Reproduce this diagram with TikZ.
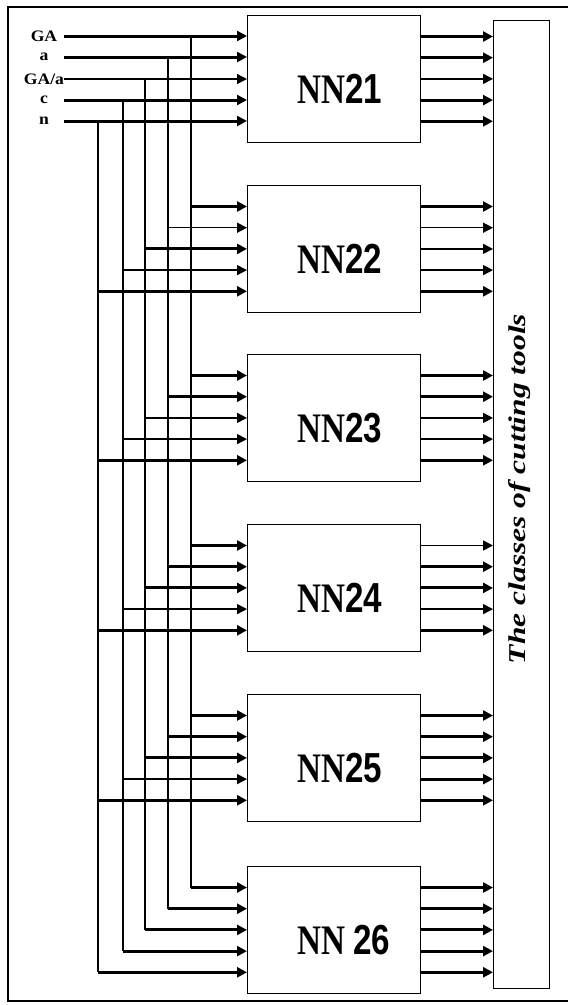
\documentclass[tikz,border=0pt]{standalone}
\usepackage{graphicx}
\usepackage{fontspec}
\setmainfont{Liberation Serif}
\setsansfont{Liberation Sans}
\usetikzlibrary{arrows.meta,positioning}

\tikzset{
  nnbox/.style={draw,line width=1.2pt,anchor=north west,minimum width=173pt,minimum height=127pt,inner sep=0pt},
  nnlab/.style={anchor=west,inner sep=0pt,font=\fontsize{42}{42}\selectfont\bfseries},
  inlab/.style={minimum width=40pt,inner sep=0pt,font=\fontsize{16}{16}\selectfont\bfseries},
  wT/.style={line width=3pt},
  wt/.style={line width=1.5pt},
  sig/.style={-{Triangle[length=10pt,width=10pt]}},
}

\begin{document}
\begin{tikzpicture}[x=1pt,y=-1pt]
\useasboundingbox (0,0) rectangle (568,1005);
\draw[line width=1.2pt] (8,7) rectangle (580,1001);

% input parameters
\node[inlab] (GA) at (44,36) {\scalebox{1.1}[1]{GA}};
\node[inlab] (a) at (44,57) {\scalebox{1.1}[1]{a}};
\node[inlab] (GAa) at (44,79) {\scalebox{1.1}[1]{GA/a}};
\node[inlab] (c) at (44,100) {\scalebox{1.1}[1]{c}};
\node[inlab] (n) at (44,121) {\scalebox{1.1}[1]{n}};

% output block
\node[draw,line width=1.2pt,anchor=north west,minimum width=56pt,minimum height=968pt,inner sep=0pt] (classes) at (493,20) {};
\node[rotate=90,inner sep=0pt] (title) at (520,489) {\resizebox{350pt}{17pt}{\bfseries\itshape The classes of cutting tools}};

% bus columns
\foreach \bx [count=\j from 0] in {191,168,145,123,98}
  \coordinate (bus\j) at (\bx,0);

% networks
\foreach \k/\t/\g/\il/\ol in {
  21/15/0/{wT,wT,wt,wT,wT}/{wT,wT,wt,wT,wT},
  22/185/0/{wT,wt,wT,wt,wT}/{wT,wt,wt,wt,wT},
  23/354/0/{wT,wT,wt,wt,wT}/{wT,wT,wt,wt,wT},
  24/524/0/{wT,wT,wT,wt,wT}/{wt,wT,wT,wt,wT},
  25/694/0/{wT,wT,wT,wt,wT}/{wT,wT,wT,wT,wT},
  26/866/10/{wT,wT,wT,wT,wT}/{wT,wT,wT,wT,wT}}{
  \node[nnbox] (NN\k) at (247,\t) {};
  \node[nnlab] (lab\k) at ([xshift=50pt,yshift=-10pt]NN\k.west) {\scalebox{0.79}[1]{NN\hspace{\g pt}\sffamily\k}};
  \foreach \w [count=\j from 0] in \il {
    \coordinate (in\k\j) at ([yshift={-21.5-21.2*\j}]NN\k.north west);
    \ifnum\k>21 \draw[sig,\w] (bus\j |- in\k\j) -- (in\k\j); \fi
  }
  \foreach \w [count=\j from 0] in \ol
    \draw[sig,\w] (NN\k.east |- in\k\j) -- (classes.west |- in\k\j);
}

% first network and buses
\foreach \l/\w [count=\j from 0] in {GA/wT,a/wT,GAa/wt,c/wT,n/wT}{
  \draw[sig,\w] (\l.east) -- (NN21.west |- \l.east);
  \draw[wt] (bus\j |- \l.east) -- (bus\j |- in26\j);
}
\end{tikzpicture}
\end{document}
